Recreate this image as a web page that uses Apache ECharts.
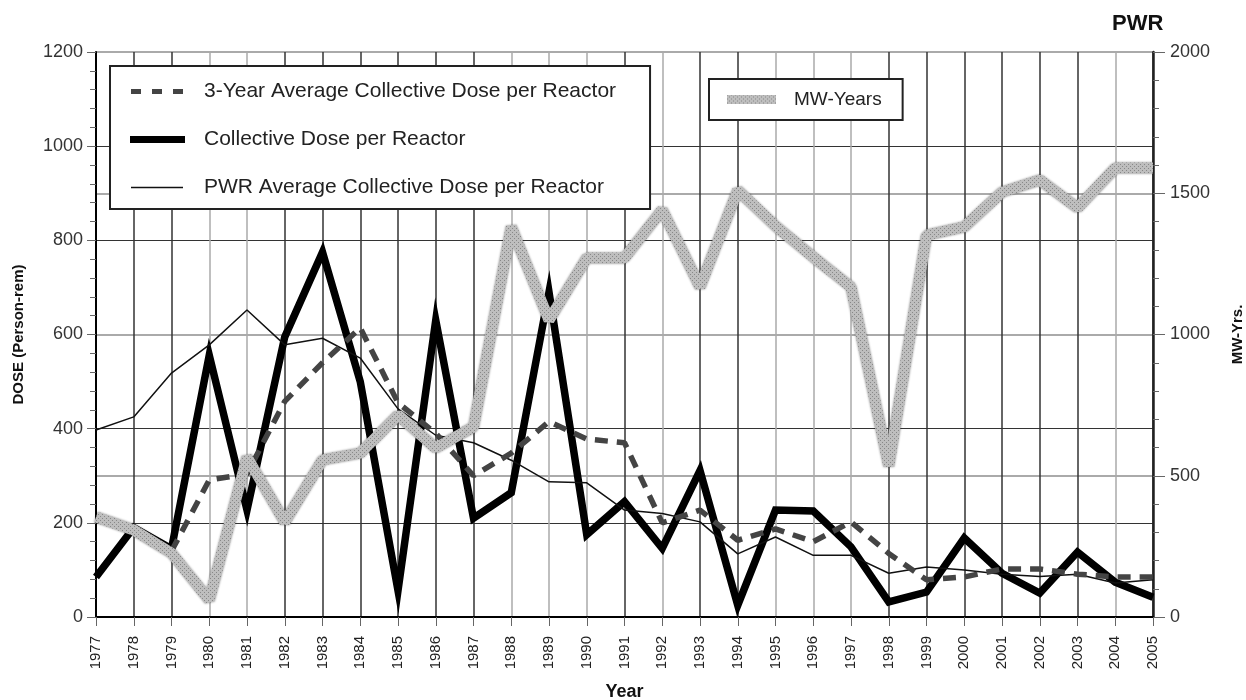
<!DOCTYPE html>
<html>
<head>
<meta charset="utf-8">
<script src="https://cdn.jsdelivr.net/npm/echarts@6/dist/echarts.min.js"></script>
<style>
  html, body { margin: 0; padding: 0; background: #fff; }
  #main { width: 1246px; height: 700px; }
</style>
</head>
<body>
<div id="main"></div>
<script>
  // 年份
  var years = ['1977','1978','1979','1980','1981','1982','1983','1984','1985','1986',
    '1987','1988','1989','1990','1991','1992','1993','1994','1995','1996',
    '1997','1998','1999','2000','2001','2002','2003','2004','2005'];
  // 3-Year Average Collective Dose per Reactor
  var avg3Dose = [null, null, 140, 291, 304, 458, 540, 614, 455, 390,
    300, 348, 415, 378, 370, 200, 227, 163, 187, 160,
    202, 135, 79, 85, 102, 102, 91, 85, 85];
  // Collective Dose per Reactor
  var collectiveDose = [85, 190, 145, 556, 227, 595, 775, 500, 56, 630,
    210, 264, 690, 175, 245, 146, 311, 25, 227, 225,
    149, 32, 53, 168, 93, 51, 138, 74, 42];
  // PWR Average Collective Dose per Reactor
  var pwrAvgDose = [397, 425, 518, 578, 652, 578, 592, 550, 442, 386,
    370, 333, 287, 285, 227, 220, 202, 134, 170, 131,
    131, 93, 106, 100, 91, 86, 91, 72, 79];
  // MW-Years
  var mwYears = [354, 308, 226, 60, 566, 336, 556, 580, 715, 598,
    673, 1381, 1051, 1271, 1271, 1441, 1168, 1511, 1384, 1274,
    1168, 535, 1352, 1381, 1504, 1547, 1448, 1589, 1589];

  // MW-Years 线条纹理
  var pat = document.createElement('canvas');
  pat.width = 4; pat.height = 4;
  var ctx = pat.getContext('2d');
  ctx.fillStyle = '#bebebe';
  ctx.fillRect(0, 0, 4, 4);
  ctx.fillStyle = '#888';
  ctx.fillRect(0, 0, 1, 1);
  ctx.fillRect(2, 2, 1, 1);
  var mwColor = { image: pat, repeat: 'repeat' };

  var dark = '#333', light = '#aaa';
  var vColors = [dark, dark, dark, light, light, dark, dark, dark, dark, dark,
    dark, light, light, light, dark, light, dark, dark, light, light,
    light, dark, dark, dark, dark, dark, dark, light, dark];

  // 图例图标 (55x20 框内)
  var iconDash = 'path://M0,0M55,20M1,7.5h10v5h-10zM22,7.5h10v5h-10zM43,7.5h10v5h-10z';
  var iconThick = 'path://M0,0M55,20M0,6.5h55v7h-55z';
  var iconThin = 'path://M0,0M55,20M1,9.25h52v1.5h-52z';
  var iconMw = 'path://M0,0M49,18M0,4.5h49v9h-49z';

  var font = 'Liberation Sans, Arial, sans-serif';
  var plain = function (v) { return String(v); };
  var myChart = echarts.init(document.getElementById('main'));
  myChart.setOption({
    animation: false,
    textStyle: { fontFamily: font },
    title: {
      text: 'PWR',
      left: 1107,
      top: 8,
      textStyle: { fontFamily: font, fontWeight: 'bold', fontSize: 22, color: '#111' }
    },
    grid: { left: 96, right: 93, top: 52, bottom: 83, outerBoundsMode: 'none' },
    legend: [
      {
        orient: 'vertical',
        left: 110,
        top: 66,
        padding: [15, 34, 11, 20],
        itemWidth: 55,
        itemHeight: 20,
        itemGap: 27,
        borderColor: '#222',
        borderWidth: 2,
        backgroundColor: '#fff',
        textStyle: { fontFamily: font, fontSize: 21, color: '#222', padding: [0, 0, 0, 14] },
        data: [
          { name: '3-Year Average Collective Dose per Reactor', icon: iconDash },
          { name: 'Collective Dose per Reactor', icon: iconThick },
          { name: 'PWR Average Collective Dose per Reactor', icon: iconThin }
        ]
      },
      {
        left: 709,
        top: 79,
        padding: [11, 21, 11, 18],
        itemWidth: 49,
        itemHeight: 18,
        borderColor: '#222',
        borderWidth: 2,
        backgroundColor: '#fff',
        textStyle: { fontFamily: font, fontSize: 19, color: '#222', padding: [0, 0, 0, 13] },
        data: [{ name: 'MW-Years', icon: iconMw }]
      }
    ],
    xAxis: {
      type: 'category',
      data: years,
      boundaryGap: false,
      name: 'Year',
      nameLocation: 'middle',
      nameGap: 66,
      nameTextStyle: { fontFamily: font, fontWeight: 'bold', fontSize: 18, color: '#111' },
      axisLine: { lineStyle: { color: '#000', width: 2 } },
      axisTick: { length: 9, lineStyle: { color: '#666' } },
      axisLabel: { rotate: 90, fontSize: 15, color: '#222', margin: 19, interval: 0 },
      splitLine: { show: true, lineStyle: { color: vColors, width: 1.5 } }
    },
    yAxis: [
      {
        type: 'value',
        min: 0,
        max: 1200,
        interval: 200,
        name: 'DOSE (Person-rem)',
        nameLocation: 'middle',
        nameRotate: 90,
        nameGap: 70,
        nameTextStyle: { fontFamily: font, fontWeight: 'bold', fontSize: 15, color: '#111' },
        axisLine: { show: true, lineStyle: { color: '#000', width: 2 } },
        axisTick: { show: true, length: 9, lineStyle: { color: '#666' } },
        minorTick: { show: true, splitNumber: 5, length: 6, lineStyle: { color: '#666' } },
        axisLabel: { fontSize: 18, color: '#333', margin: 13, formatter: plain },
        splitLine: { show: true, lineStyle: { color: '#333', width: 1 } }
      },
      {
        type: 'value',
        min: 0,
        max: 2000,
        interval: 500,
        position: 'right',
        name: 'MW-Yrs.',
        nameLocation: 'middle',
        nameRotate: 90,
        nameGap: 77,
        nameTextStyle: { fontFamily: font, fontWeight: 'bold', fontSize: 15, color: '#111' },
        axisLine: { show: true, lineStyle: { color: '#222', width: 2.5 } },
        axisTick: { show: true, length: 12, lineStyle: { color: '#666' } },
        minorTick: { show: true, splitNumber: 5, length: 6, lineStyle: { color: '#666' } },
        axisLabel: { fontSize: 18, color: '#333', margin: 17, formatter: plain },
        splitLine: { show: true, lineStyle: { color: '#aaa', width: 2 } }
      }
    ],
    series: [
      {
        name: 'Collective Dose per Reactor',
        type: 'line',
        yAxisIndex: 0,
        data: collectiveDose,
        symbol: 'none',
        lineStyle: { color: '#000', width: 7.5, join: 'miter' },
        itemStyle: { color: '#000' },
        z: 3
      },
      {
        name: 'PWR Average Collective Dose per Reactor',
        type: 'line',
        yAxisIndex: 0,
        data: pwrAvgDose,
        symbol: 'none',
        lineStyle: { color: '#111', width: 1.5 },
        itemStyle: { color: '#111' },
        z: 4
      },
      {
        name: '3-Year Average Collective Dose per Reactor',
        type: 'line',
        yAxisIndex: 0,
        data: avg3Dose,
        symbol: 'none',
        lineStyle: { color: '#444', width: 5.5, type: [13, 9] },
        itemStyle: { color: '#444' },
        z: 5
      },
      {
        name: 'MW-Years',
        type: 'line',
        yAxisIndex: 1,
        data: mwYears,
        symbol: 'none',
        lineStyle: { color: mwColor, width: 11, shadowBlur: 2, shadowColor: 'rgba(0,0,0,0.4)' },
        itemStyle: { color: mwColor },
        z: 6
      }
    ]
  });
</script>
</body>
</html>
